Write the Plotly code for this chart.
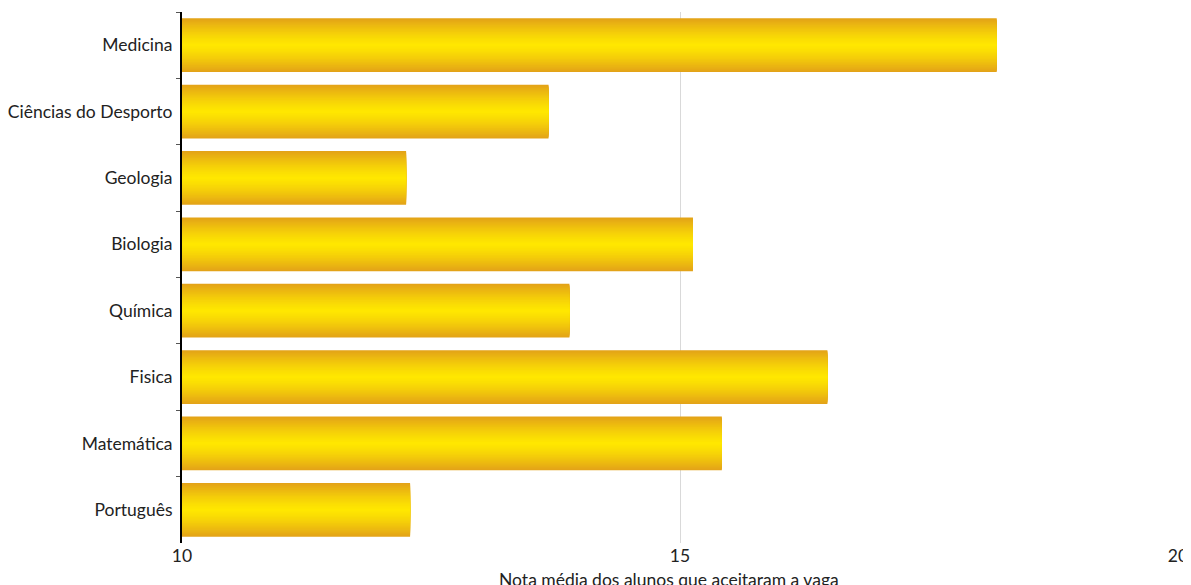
import plotly.graph_objects as go

categories = ["Medicina", "Ciências do Desporto", "Geologia", "Biologia",
              "Química", "Fisica", "Matemática", "Português"]
values = [18.18, 13.68, 12.25, 15.13, 13.89, 16.48, 15.42, 12.29]
x_ticks = [10, 15, 20]
x_title = "Nota média dos alunos que aceitaram a vaga"

edge_rgb = (227, 163, 24)
center_rgb = (255, 232, 0)
bar_width = 0.81
n_layers = 24

fig = go.Figure()
for k in range(n_layers):
    t = 1 - k / n_layers  # 1 at edge, ->0 at center
    tt = t ** 1.3
    c = tuple(round(center_rgb[i] + (edge_rgb[i] - center_rgb[i]) * tt) for i in range(3))
    fig.add_trace(go.Bar(
        y=categories, x=[v - 10 for v in values], base=10,
        orientation="h",
        width=bar_width * (1 - k / n_layers),
        marker=dict(color="rgb(%d,%d,%d)" % c, line=dict(width=0)),
        showlegend=False,
        hoverinfo="skip" if k else None,
    ))

font = "Lato"
fs = 17.5
fig.update_layout(
    width=1191, height=585,
    barmode="overlay",
    plot_bgcolor="white", paper_bgcolor="white",
    margin=dict(l=174, r=21, t=4, b=50),
    font=dict(family=font, size=fs, color="#222222"),
    annotations=[dict(
        text=x_title, xref="paper", yref="paper", x=0.489, y=-0.068,
        xanchor="center", yanchor="middle", showarrow=False,
        font=dict(size=fs, color="#222222"),
    )],
)
fig.update_xaxes(
    range=[10, 20], tickvals=x_ticks, ticktext=[str(v) for v in x_ticks],
    showgrid=True, gridcolor="#D9D9D9", gridwidth=1,
    zeroline=False, showline=False, ticks="",
    tickfont=dict(size=fs),
    automargin=False,
)
fig.update_yaxes(
    categoryorder="array", categoryarray=categories, autorange="reversed",
    showline=True, linecolor="black", linewidth=2,
    ticks="outside", tickson="boundaries", ticklen=4, tickcolor="#555555",
    ticklabelstandoff=4,
    showgrid=False, tickfont=dict(size=fs), automargin=False,
)

fig.write_html("out.html")
